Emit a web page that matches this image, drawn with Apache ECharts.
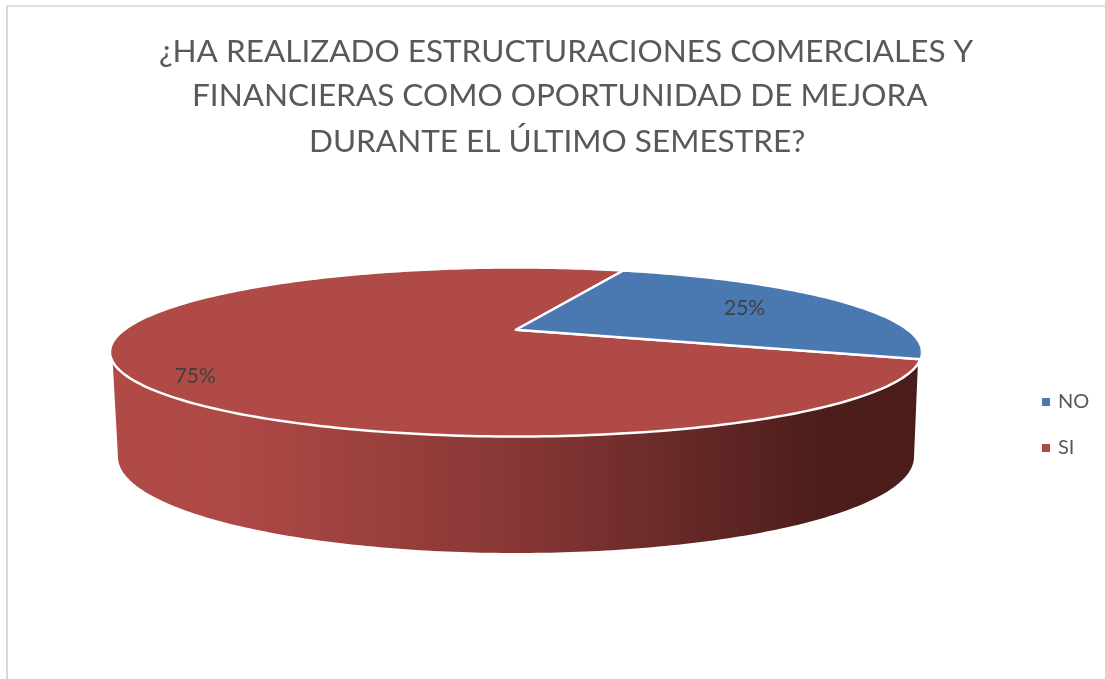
<!DOCTYPE html>
<html><head><meta charset="utf-8">
<style>html,body{margin:0;padding:0;background:#fff}#c{width:1105px;height:679px}</style>
<script src="https://cdn.jsdelivr.net/npm/echarts@6/dist/echarts.min.js"></script>
</head><body><div id="c"></div>
<script>
const titleLines = ['¿HA REALIZADO ESTRUCTURACIONES COMERCIALES Y','FINANCIERAS COMO OPORTUNIDAD DE MEJORA','DURANTE EL ÚLTIMO SEMESTRE?'];
const categories = ['NO','SI'];
const values = [25,75];
const colors = ['#4a79b2','#b04a47'];
const labelRadius = [0.7,0.8];
const labelShift = [[-2,0],[-9,17]];
const titleLefts = [154,187,304];
const titleTops = [24,68,114];

const TOTAL = values.reduce((a,b)=>a+b,0);
const FIRST_ANGLE = 20;
const TOP = {cx:516,cy:352,rx:406,ry:84.5};
const BOT = {cx:516,cy:457,rx:398,ry:96};
const K = 0.263;
const rad = d=>d*Math.PI/180;
// Projects a point of the pie's flat disc (r, angle clockwise from top) onto the tilted ellipse
function project(r,deg){
  const x=r*Math.sin(rad(deg)), y=r*Math.cos(rad(deg)), d=1+K*y;
  return [TOP.cx+TOP.rx*x*Math.sqrt(1-K*K)/d, TOP.cy-TOP.ry*(y+K)/d];
}
function ell(e,t){return [e.cx+e.rx*Math.sin(rad(t)), e.cy-e.ry*Math.cos(rad(t))];}
function wall(){
  const p=[];
  for(let t=97;t<=265;t+=1)p.push(ell({...TOP,rx:TOP.rx-1,ry:TOP.ry-1},t));
  for(let t=270;t>=90;t-=1)p.push(ell(BOT,t));
  return p;
}
function makeRender(i){
  return function(params,api){
    const before=values.slice(0,i).reduce((a,b)=>a+b,0);
    const a0=FIRST_ANGLE+before/TOTAL*360;
    const a1=a0+api.value(0)/TOTAL*360;
    const pts=[project(0,0)];
    for(let a=a0;a<=a1+1e-6;a+=1)pts.push(project(1,a));
    const mid=project(labelRadius[i],(a0+a1)/2);
    const children=[];
    if(i===1){
      children.push({type:'polygon',shape:{points:wall()},silent:true,style:{
        fill:{type:'linear',x:111,y:0,x2:921,y2:0,global:true,colorStops:[
          {offset:0,color:'#b04a47'},{offset:0.17,color:'#ac4845'},{offset:0.5,color:'#873735'},
          {offset:0.88,color:'#4b1d1b'},{offset:1,color:'#4a1c1a'}]}
      }});
    }
    children.push({type:'polygon',shape:{points:pts},style:{fill:colors[i],stroke:'#fff',lineWidth:2.5,lineJoin:'round'}});
    children.push({type:'text',silent:true,style:{
      x:mid[0]+labelShift[i][0],y:mid[1]+labelShift[i][1],text:Math.round(api.value(0)/TOTAL*100)+'%',
      fill:'#404040',font:'21px Lato',align:'center',verticalAlign:'middle'}});
    return {type:'group',children};
  };
}
const chart=echarts.init(document.getElementById('c'),null,{renderer:'canvas'});
chart.setOption({
  animation:false,
  backgroundColor:'#fff',
  title:titleLines.map((t,i)=>({text:t,left:titleLefts[i],top:titleTops[i],
    textStyle:{fontFamily:'Lato',fontWeight:'normal',fontSize:31.5,lineHeight:45,color:'#595959'}})),
  legend:{data:categories,orient:'vertical',left:1037,top:387,itemWidth:8,itemHeight:8,itemGap:26,
    icon:'rect',textStyle:{fontFamily:'Lato',fontSize:20,color:'#595959',padding:[0,0,0,3]},selectedMode:false},
  graphic:[
    {type:'rect',silent:true,shape:{x:6,y:5,width:2,height:674},style:{fill:'#d9d9d9'}},
    {type:'rect',silent:true,shape:{x:6,y:5,width:1099,height:2},style:{fill:'#e0e0e0'}}
  ],
  series:categories.map((c,i)=>({
    type:'custom',name:c,coordinateSystem:'none',z:i===0?3:2,
    itemStyle:{color:colors[i]},
    renderItem:makeRender(i),data:[[values[i]]]
  }))
});
</script></body></html>
